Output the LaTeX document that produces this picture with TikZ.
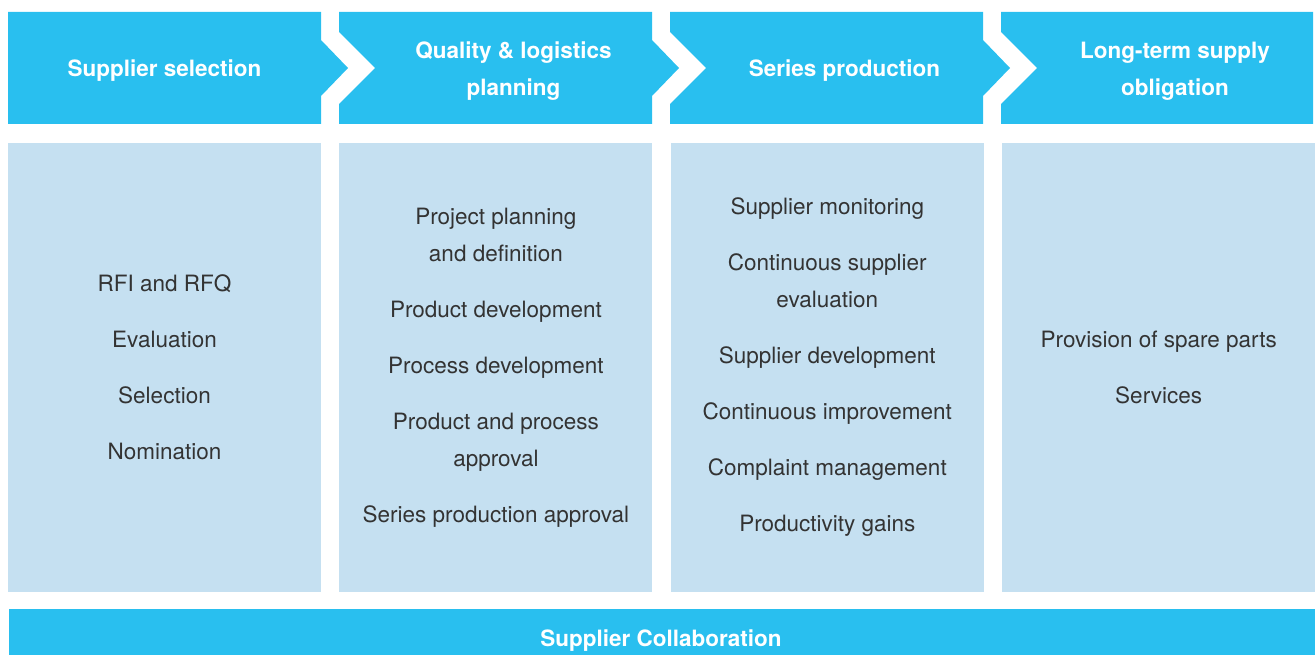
\documentclass[tikz,border=0pt]{standalone}
\usepackage{fontspec}
\setmainfont{TeX Gyre Heros}
\usetikzlibrary{positioning}

\definecolor{headcyan}{HTML}{29BFEF}
\definecolor{panelblue}{HTML}{C5E0F1}
\definecolor{bodytext}{HTML}{333333}

\begin{document}
\begin{tikzpicture}[x=1pt, y=-1pt,
        headtext/.style={text=white, align=center, font=\fontsize{22.5}{37}\selectfont\bfseries},
        panel/.style={fill=panelblue, minimum width=313pt, minimum height=449pt, inner sep=0pt,
            text=bodytext, align=center, font=\fontsize{22.5}{37}\selectfont}]
    \useasboundingbox (0,0) rectangle (1315,655);

    % header chevrons
    \fill[headcyan] (8,12) -- (321,12) -- (321,40) -- (348,68) -- (321,96) -- (321,124) -- (8,124) -- cycle;
    \fill[headcyan] (339,12) -- (652,12) -- (652,40) -- (679,68) -- (652,96) -- (652,124)
        -- (339,124) -- (339,104) -- (375,68) -- (339,32) -- cycle;
    \fill[headcyan] (670,12) -- (983,12) -- (983,40) -- (1010,68) -- (983,96) -- (983,124)
        -- (670,124) -- (670,104) -- (706,68) -- (670,32) -- cycle;
    \fill[headcyan] (1001,12) -- (1313,12) -- (1313,124)
        -- (1001,124) -- (1001,104) -- (1037,68) -- (1001,32) -- cycle;

    \node[headtext] (hsel) at (164.5,71) {Supplier selection};
    \node[headtext] (hqual) at (513.5,71) {Quality \& logistics\\planning};
    \node[headtext] (hser) at (844.5,71) {Series production};
    \node[headtext] (hlong) at (1175,71) {Long-term supply\\obligation};

    % panels
    \node[panel] (psel) at (164.5,367.5) {RFI and RFQ\\[19pt] Evaluation\\[19pt] Selection\\[19pt] Nomination};
    \node[panel, right=18pt of psel] (pqual) {Project planning\\and definition\\[19pt] Product development\\[19pt]
        Process development\\[19pt] Product and process\\approval\\[19pt] Series production approval};
    \node[panel, right=18pt of pqual] (pser) {Supplier monitoring\\[19pt] Continuous supplier\\evaluation\\[19pt]
        Supplier development\\[19pt] Continuous improvement\\[19pt] Complaint management\\[19pt] Productivity gains};
    \node[panel, right=18pt of pser] (plong) {Provision of spare parts\\[19pt] Services};

    % bottom bar
    \fill[headcyan] (9,609) rectangle (1315,655);
    \node[headtext] (collab) at (661,641) {Supplier Collaboration};
\end{tikzpicture}
\end{document}
